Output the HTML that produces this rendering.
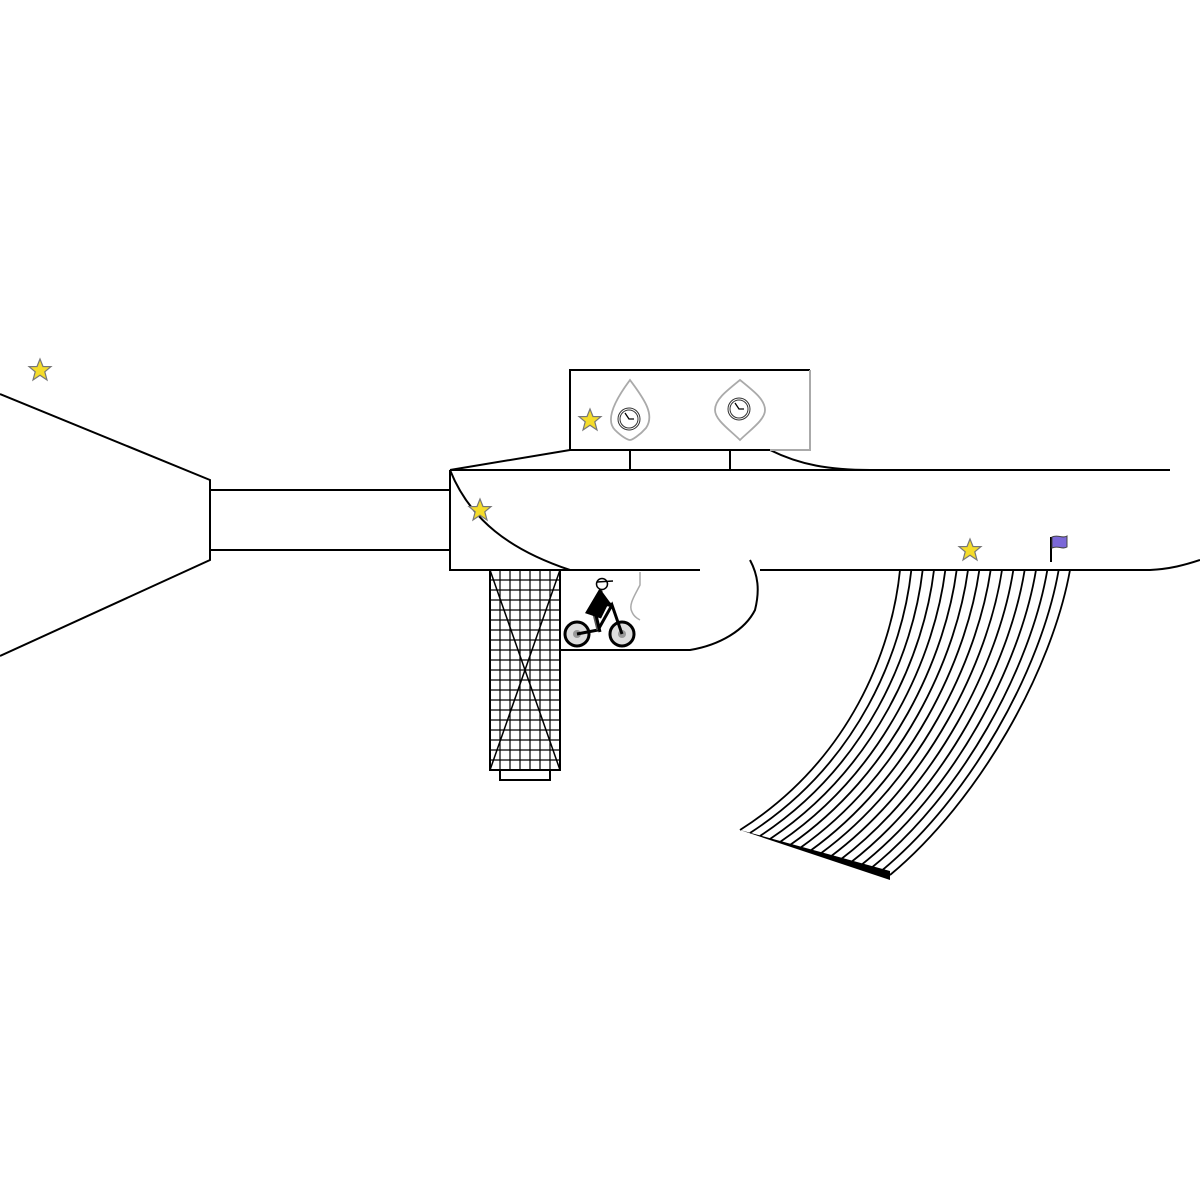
<!DOCTYPE html>
<html><head><meta charset="utf-8"><style>html,body{margin:0;padding:0;background:#fff;}svg{display:block}</style></head>
<body>
<svg id="s" width="1200" height="1200" viewBox="0 0 1200 1200" xmlns="http://www.w3.org/2000/svg">
<defs>
<g id="star"><polygon points="0,-11 3,-3.5 11,-3.4 4.8,1.8 7,10 0,5.2 -7,10 -4.8,1.8 -11,-3.4 -3,-3.5" fill="#f5dc2a" stroke="#777" stroke-width="1.2"/></g>
<g id="clock"><circle r="11" fill="#fff" stroke="#333" stroke-width="1"/><circle r="9" fill="none" stroke="#333" stroke-width="1"/><path d="M-4,-6 L0,0 L5,0" stroke="#000" stroke-width="1.3" fill="none"/></g>
</defs>
<g fill="none" stroke="#000" stroke-width="2">
<path d="M0,394 L210,480 L210,560 L0,656"/>
<path d="M210,490 L450,490 M210,550 L450,550"/>
<path d="M450,470 L450,570 L700,570"/>
<path d="M450,470 L570,450 L770,450 M450,470 L1170,470"/>
<path d="M770,450 C800,465 830,470 870,470"/>
<path d="M630,450 L630,470 M730,450 L730,470"/>
<path d="M450,470 C470,520 510,550 570,570"/>
<path d="M760,570 L1150,570 C1170,569 1185,565 1200,560"/>
<path d="M560,650 L690,650 C720,645 745,630 755,610 C760,590 758,575 750,560"/>
<rect x="490" y="570" width="70" height="200"/>
<rect x="500" y="770" width="50" height="10"/>
<path d="M490,570 L560,770 M560,570 L490,770" stroke-width="1.5"/>
</g>
<g stroke="#000" stroke-width="1.2">
<path d="M500,570V770M510,570V770M520,570V770M530,570V770M540,570V770M550,570V770"/>
<path d="M490,580H560M490,590H560M490,600H560M490,610H560M490,620H560M490,630H560M490,640H560M490,650H560M490,660H560M490,670H560M490,680H560M490,690H560M490,700H560M490,710H560M490,720H560M490,730H560M490,740H560M490,750H560M490,760H560"/>
</g>
<path d="M570,450 L570,370 L810,370" stroke="#000" stroke-width="2" fill="none"/>
<path d="M810,370 L810,450 L770,450" stroke="#aaa" stroke-width="2" fill="none"/>
<path d="M630,380 C615,400 605,420 615,430 C622,437 628,440 630,440 C632,440 640,435 646,428 C655,415 645,400 630,380Z" stroke="#aaa" stroke-width="1.8" fill="none"/>
<path d="M740,380 C725,392 715,400 715,410 C715,420 730,430 740,440 C750,430 765,420 765,410 C765,400 755,392 740,380Z" stroke="#aaa" stroke-width="1.8" fill="none"/>
<use href="#clock" x="629" y="419"/>
<use href="#clock" x="739" y="409"/>
<path d="M640,572 L640,585 C635,595 628,605 632,612 C634,617 638,619 640,620" stroke="#aaa" stroke-width="1.5" fill="none"/>
<use href="#star" x="40" y="370"/>
<use href="#star" x="590" y="420"/>
<use href="#star" x="480" y="510"/>
<use href="#star" x="970" y="550"/>
<path d="M1051,537 L1051,562" stroke="#000" stroke-width="2"/>
<path d="M1052,537 C1058,534 1062,539 1067,536 L1067,547 C1062,550 1058,545 1052,548Z" fill="#7b68d8" stroke="#444" stroke-width="1"/>
<g>
<circle cx="577" cy="634" r="12" fill="#ddd" stroke="#000" stroke-width="3"/>
<circle cx="577" cy="634" r="4" fill="#999"/>
<circle cx="622" cy="634" r="12" fill="#ddd" stroke="#000" stroke-width="3"/>
<circle cx="622" cy="634" r="4" fill="#999"/>
<path d="M577,634 L598,630 L612,605 L622,634" stroke="#000" stroke-width="3" fill="none"/>
<path d="M598,630 L593,610" stroke="#555" stroke-width="3" fill="none"/>
<path d="M601,590 L588,612 L600,616 L606,604 L612,605" stroke="#000" stroke-width="4" fill="#000"/>
<path d="M596,615 L600,632" stroke="#000" stroke-width="3"/>
<circle cx="602" cy="584" r="5.5" fill="#fff" stroke="#000" stroke-width="1.5"/>
<path d="M597,582 L613,581" stroke="#000" stroke-width="1.5"/>
</g>
<g id="ramp" fill="none" stroke="#000" stroke-width="1.8"></g>
<polygon points="740,830 890,871 890,880" fill="#000"/>
</svg>
<script>
var g=document.getElementById('ramp'),s='';
var n=16;
for(var i=0;i<n;i++){var t=i/(n-1);
var tx=900+t*170, bx=740+t*150, by=830+t*45;
var c1x=tx-8-t*10, c1y=650+t*20;
var c2x=(850+t*(980-850)), c2y=(760+t*(800-760));
s+='<path d="M'+tx+',570 C'+c1x+','+c1y+' '+c2x+','+c2y+' '+bx+','+by+'"/>';}
g.innerHTML=s;
</script>
</body></html>
